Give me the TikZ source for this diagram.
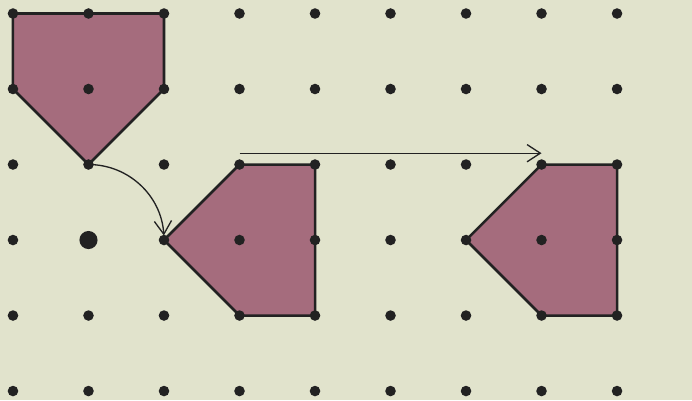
\documentclass[tikz,border=0pt]{standalone}
\usetikzlibrary{arrows.meta}
\definecolor{bg}{HTML}{E1E3CC}
\definecolor{shapefill}{HTML}{A56C7D}
\definecolor{ink}{HTML}{222222}
\begin{document}
\begin{tikzpicture}[x=1cm,y=1cm,
  griddot/.style={circle,fill=ink,inner sep=0pt,minimum size=0.14cm},
  bigdot/.style={circle,fill=ink,inner sep=0pt,minimum size=0.24cm},
  poly/.style={fill=shapefill,draw=ink,line width=0.95pt,line join=miter},
  motion/.style={draw=ink,line width=0.5pt,-{Straight Barb[length=5pt,width=6.5pt]}}]
\fill[bg] (-0.172,-0.119) rectangle (8.993,5.179);
\useasboundingbox (-0.172,-0.119) rectangle (8.993,5.179);
% coordinates
\foreach \i in {0,...,8}{\foreach \j in {0,...,5}{\coordinate (c-\i-\j) at (\i,\j);}}
% shapes
\draw[poly] (c-0-5) -- (c-2-5) -- (c-2-4) -- (c-1-3) -- (c-0-4) -- cycle;
\draw[poly] (c-3-3) -- (c-4-3) -- (c-4-1) -- (c-3-1) -- (c-2-2) -- cycle;
\draw[poly] (c-7-3) -- (c-8-3) -- (c-8-1) -- (c-7-1) -- (c-6-2) -- cycle;
% dots
\foreach \i in {0,...,8}{\foreach \j in {0,...,5}{\node[griddot] (d-\i-\j) at (c-\i-\j) {};}}
\node[bigdot] (centre) at (1,2) {};
% arrows
\draw[motion] (d-1-3.center) arc[start angle=90,end angle=3.5,radius=1];
\coordinate (a1) at (3,3.15);
\coordinate (a2) at (7,3.15);
\draw[motion] (a1) -- (a2);
\end{tikzpicture}
\end{document}
